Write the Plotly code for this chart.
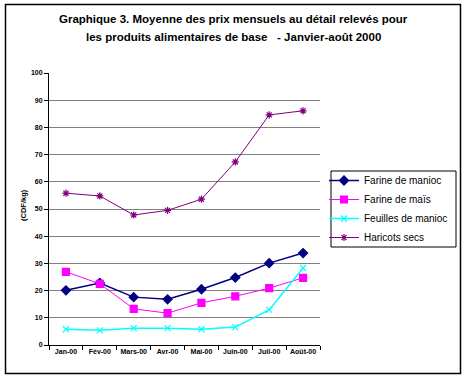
import plotly.graph_objects as go

months = ["Jan-00", "Fév-00", "Mars-00", "Avr-00", "Mai-00", "Juin-00", "Juil-00", "Août-00"]
farine_manioc = [20.1, 22.8, 17.6, 16.8, 20.5, 24.8, 30.1, 33.8]
farine_mais = [26.9, 22.5, 13.3, 11.7, 15.5, 17.9, 20.9, 24.7]
feuilles_manioc = [5.8, 5.4, 6.2, 6.2, 5.8, 6.6, 12.9, 28.3]
haricots_secs = [55.8, 54.8, 47.8, 49.5, 53.6, 67.3, 84.6, 86.1]
y_ticks = [0, 10, 20, 30, 40, 50, 60, 70, 80, 90, 100]

W, H = 467, 380
L, R, T, B = 49, 320, 73, 345
pw, ph = R - L, B - T

def px(x):
    return (x - L) / pw

def py(y):
    return (B - y) / ph

fig = go.Figure()
series = [
    ("Farine de manioc", farine_manioc, "#000080", "diamond", 7, 1.5),
    ("Farine de maïs", farine_mais, "#FF00FF", "square", 7, 1),
    ("Feuilles de manioc", feuilles_manioc, "#00FFFF", "x-thin-open", 6, 1.5),
    ("Haricots secs", haricots_secs, "#800080", "asterisk-open", 6, 1),
]
for name, vals, col, sym, sz, lw in series:
    fig.add_trace(go.Scatter(
        x=months, y=vals, name=name, mode="lines+markers",
        line=dict(color=col, width=lw),
        marker=dict(symbol=sym, size=sz, color=col, line=dict(color=col, width=1.2)),
    ))

tick_font = dict(size=7, family="Arial, Liberation Sans", color="black", weight="bold")

fig.update_layout(
    width=W, height=H,
    margin=dict(l=L, r=W - R, t=T, b=H - B, pad=0, autoexpand=False),
    paper_bgcolor="white", plot_bgcolor="white",
    font=dict(family="Arial, Liberation Sans", color="black"),
    showlegend=True,
    legend=dict(
        x=px(324), y=py(166), xanchor="left", yanchor="top",
        borderwidth=0, bgcolor="rgba(0,0,0,0)",
        font=dict(size=10, family="Arial, Liberation Sans", color="black"),
        tracegroupgap=0, itemwidth=30,
    ),
    xaxis=dict(
        type="category", range=[-0.5, 7.5], showgrid=False,
        showline=True, linecolor="black", linewidth=1,
        ticks="outside", tickson="boundaries", ticklen=4, tickcolor="black",
        tickangle=0, automargin=False,
        tickfont=tick_font,
        fixedrange=True,
    ),
    yaxis=dict(
        range=[0, 100], tickvals=y_ticks, showgrid=True, gridcolor="#808080", gridwidth=1,
        zeroline=False, showline=True, linecolor="black", linewidth=1,
        ticks="outside", ticklen=4, tickcolor="black", automargin=False,
        tickfont=tick_font,
        fixedrange=True,
    ),
    shapes=[
        dict(type="rect", xref="paper", yref="paper",
             x0=px(5.5), x1=px(460.5), y0=py(373.5), y1=py(4.5),
             line=dict(color="black", width=1.5), fillcolor="rgba(0,0,0,0)", layer="below"),
        dict(type="rect", xref="paper", yref="paper",
             x0=px(331), x1=px(456), y0=py(247), y1=py(171),
             line=dict(color="black", width=1), fillcolor="rgba(0,0,0,0)", layer="above"),
    ],
    annotations=[
        dict(text="<b>Graphique 3. Moyenne des prix mensuels au détail relevés pour</b>",
             xref="paper", yref="paper", x=px(233), y=py(19), xanchor="center", yanchor="middle",
             showarrow=False, font=dict(size=11.5, family="Arial, Liberation Sans", color="black")),
        dict(text="<b>les produits alimentaires de base   - Janvier-août 2000</b>",
             xref="paper", yref="paper", x=px(233), y=py(37), xanchor="center", yanchor="middle",
             showarrow=False, font=dict(size=11.5, family="Arial, Liberation Sans", color="black")),
        dict(text="<b>(CDF/kg)</b>", xref="paper", yref="paper", x=px(23), y=py(205),
             xanchor="center", yanchor="middle", textangle=-90, showarrow=False,
             font=dict(size=7.5, family="Arial, Liberation Sans", color="black")),
    ],
)

fig.write_html("out.html", config={"displayModeBar": False},
               post_script="document.body.style.margin='0';document.body.style.overflow='hidden';")
